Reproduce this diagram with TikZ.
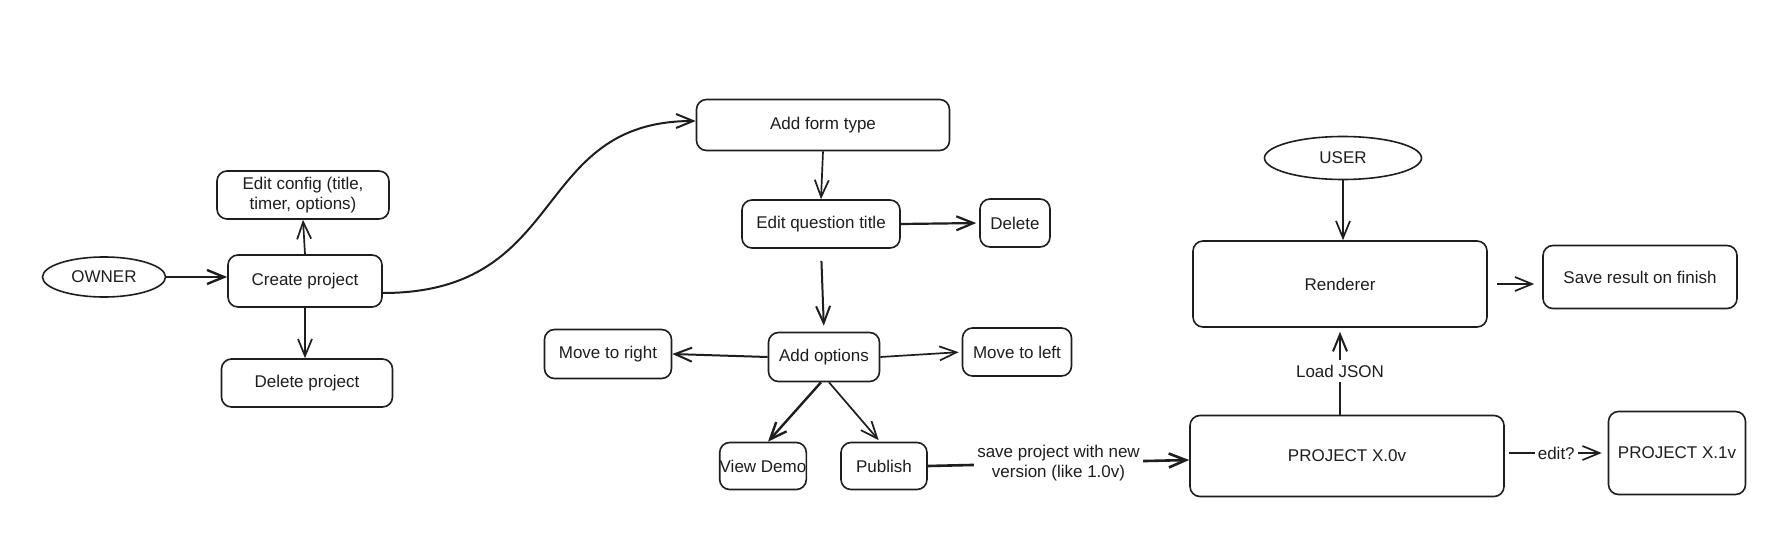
\documentclass[tikz,border=0pt]{standalone}
\usepackage{fontspec}
\setmainfont{Liberation Sans}
\usetikzlibrary{arrows.meta,shapes.geometric}
\definecolor{ink}{HTML}{1E1E1E}
\begin{document}
\begin{tikzpicture}[x=1pt,y=-1pt,
  font=\fontsize{17}{20}\selectfont,
  box/.style={draw=ink, line width=1.6pt, rounded corners=10pt, align=center, text=ink, inner sep=0pt},
  oval/.style={draw=ink, line width=1.6pt, ellipse, text=ink, inner sep=0pt},
  arr/.style={draw=ink, line width=1.7pt, -{Straight Barb[length=17pt,width=14pt]}},
  lbl/.style={fill=white, text=ink, inner sep=3pt, align=center}]
\useasboundingbox[fill=white] (0,0) rectangle (1780,535);

% nodes
\node[oval, minimum width=123pt, minimum height=40pt] (owner) at (104,277) {OWNER};
\node[box, minimum width=154pt, minimum height=52pt] (create) at (305,281) {Create project};
\node[box, minimum width=172pt, minimum height=48pt] (editcfg) at (303,195) {Edit config (title,\\timer, options)};
\node[box, minimum width=171pt, minimum height=48pt] (delproj) at (307,383) {Delete project};

\node[box, minimum width=253pt, minimum height=51pt] (addform) at (823,125) {Add form type};
\node[box, minimum width=158pt, minimum height=48pt] (editq) at (821,224) {Edit question title};
\node[box, minimum width=70pt, minimum height=48pt] (del) at (1015,223) {Delete};
\node[box, minimum width=111pt, minimum height=49pt] (addopt) at (824,357) {Add options};
\node[box, minimum width=127pt, minimum height=49pt] (mright) at (608,354) {Move to right};
\node[box, minimum width=109pt, minimum height=48pt] (mleft) at (1017,352) {Move to left};
\node[box, minimum width=85pt, minimum height=47pt] (demo) at (763,466) {View Demo};
\node[box, minimum width=86pt, minimum height=47pt] (publish) at (884,466) {Publish};

\node[box, minimum width=314pt, minimum height=81pt] (proj0) at (1347,456) {PROJECT X.0v};
\node[box, minimum width=137pt, minimum height=83pt] (proj1) at (1677,453) {PROJECT X.1v};
\node[oval, minimum width=157pt, minimum height=43pt] (user) at (1343,158) {USER};
\node[box, minimum width=294pt, minimum height=86pt] (renderer) at (1340,284) {Renderer};
\node[box, minimum width=194pt, minimum height=63pt] (save) at (1640,277) {Save result on finish};

% connectors
\draw[arr, line width=2.4pt] (owner.east) -- (owner.east -| create.west);
\draw[arr] (create.north) -- (editcfg.south);
\draw[arr] (create.south) -- (create.south |- delproj.north);
\draw[arr, line width=2pt] ([yshift=-12pt]create.east) .. controls (570,293) and (530,121) .. ([yshift=4pt]addform.west);

\draw[arr] (addform.south) -- (editq.north);
\draw[arr, line width=2.2pt, shorten >=3pt] (editq.east) -- (del.west);
\draw[arr, line width=2pt, shorten <=12pt, shorten >=6pt] (editq.south) -- (addopt.north);
\draw[arr, line width=2pt] (addopt.west) -- (mright.east);
\draw[arr, shorten >=3pt] (addopt.east) -- (mleft.west);
\draw[arr, line width=2.4pt] ([xshift=-3pt]addopt.south) -- ([xshift=5pt]demo.north);
\draw[arr, shorten >=2pt] ([xshift=5pt]addopt.south) -- ([xshift=-4pt]publish.north);

\draw[arr, line width=2.6pt] (publish.east) -- node[lbl] {save project with new\\version (like 1.0v)} ([yshift=-4pt]proj0.west);
\draw[arr, line width=2pt, shorten >=4pt] (renderer.south |- proj0.north) -- node[lbl, inner sep=5pt] {Load JSON} (renderer.south);
\draw[arr] (user.south) -- (user.south |- renderer.north);
\draw[arr, shorten <=9pt, shorten >=8pt] (renderer.east) -- (renderer.east -| save.west);
\draw[arr, shorten <=4pt, shorten >=6pt] ([yshift=3pt]proj0.east) -- node[lbl, inner sep=3pt] {edit?} (proj1.west);
\end{tikzpicture}
\end{document}
